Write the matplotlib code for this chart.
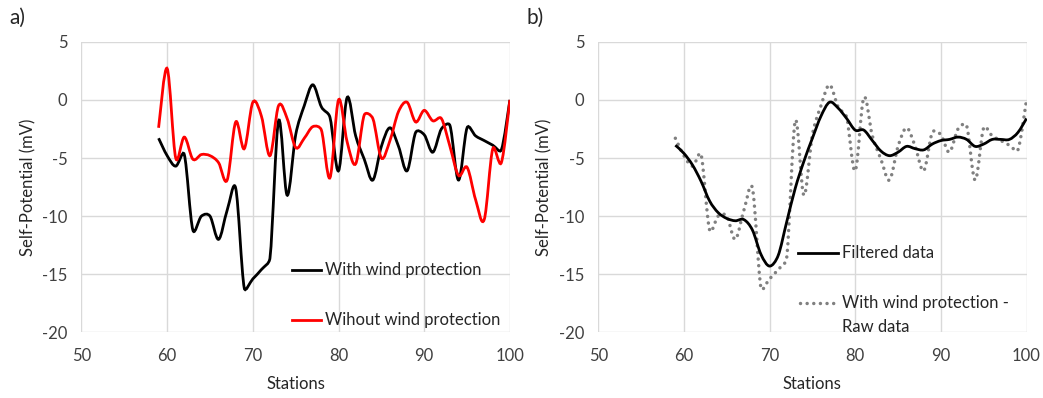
import numpy as np
import matplotlib
matplotlib.use('Agg')
import matplotlib.pyplot as plt
from matplotlib.path import Path
from matplotlib.patches import PathPatch

plt.rcParams['font.family'] = ['Lato', 'DejaVu Sans']
plt.rcParams['axes.unicode_minus'] = False

stations = list(range(59, 101))

# a) with / without wind protection
with_wind = [-3.3, -4.8, -5.7, -4.7, -11.2, -10.0, -10.0, -12.0, -9.5, -7.6,
             -16.2, -15.4, -14.6, -13.6, -1.8, -8.2, -3.0, -0.5, 1.3, -0.6,
             -1.5, -6.1, 0.2, -3.1, -5.1, -6.9, -4.0, -2.4, -4.0, -6.1,
             -2.8, -3.0, -4.5, -2.5, -2.2, -6.9, -2.4, -3.1, -3.5, -3.9,
             -4.3, 0.0]
without_wind = [-2.4, 2.7, -5.0, -3.2, -5.1, -4.7, -4.8, -5.4, -6.9, -1.9,
                -4.2, -0.2, -1.4, -4.8, -0.5, -1.6, -4.1, -3.3, -2.3, -2.6,
                -6.7, 0.0, -3.6, -5.5, -1.3, -1.6, -5.0, -3.5, -1.0, -0.2,
                -1.9, -0.9, -1.8, -1.6, -4.0, -6.5, -5.8, -8.6, -10.3, -4.2,
                -5.4, 0.0]

# b) filtered data
filtered = [-3.9, -4.6, -5.6, -7.0, -8.7, -9.7, -10.2, -10.4, -10.3, -11.2,
            -13.3, -14.3, -13.4, -10.5, -7.6, -5.3, -3.3, -1.4, -0.2, -0.7,
            -1.6, -2.6, -2.6, -3.5, -4.4, -4.8, -4.5, -4.0, -4.2, -4.3,
            -3.8, -3.5, -3.4, -3.2, -3.4, -4.0, -3.8, -3.4, -3.4, -3.4,
            -2.8, -1.6]

xticks = [50, 60, 70, 80, 90, 100]
yticks = [-20, -15, -10, -5, 0, 5]

# rough px per data unit, so the smoothing is done in screen space
SX, SY = 8.57, 11.62
FS = 12


def smooth_path(x, y, kmax=0.45):
    # catmull-rom bezier, handles clamped to a share of the segment
    p = np.column_stack([np.asarray(x) * SX, np.asarray(y) * SY]).astype(float)
    n = len(p)
    verts = [p[0]]
    codes = [Path.MOVETO]
    for i in range(n - 1):
        a, b = p[i], p[i + 1]
        seg = np.hypot(*(b - a))
        h0 = (p[min(i + 1, n - 1)] - p[max(i - 1, 0)]) / 6
        h1 = (p[min(i + 2, n - 1)] - p[i]) / 6
        for h in (h0, h1):
            L = np.hypot(*h)
            if L > kmax * seg:
                h *= kmax * seg / L
        verts += [a + h0, b - h1, b]
        codes += [Path.CURVE4] * 3
    verts = np.array(verts) / [SX, SY]
    return Path(verts, codes)


def style_axes(ax):
    ax.set_xlim(50, 100)
    ax.set_ylim(-20, 5)
    ax.set_xticks(xticks)
    ax.set_yticks(yticks)
    for s in ax.spines.values():
        s.set_visible(False)
    ax.grid(True, color='#d9d9d9', linewidth=1.0)
    ax.set_axisbelow(True)
    ax.tick_params(length=0, labelsize=FS, colors='#404040')
    ax.tick_params(axis='y', pad=10)
    ax.tick_params(axis='x', pad=11)
    ax.set_xlabel('Stations', fontsize=FS, color='#262626')
    ax.set_ylabel('Self-Potential (mV)', fontsize=FS, color='#262626')
    ax.xaxis.set_label_coords(0.5, -0.15)
    ax.yaxis.set_label_coords(-0.106, 0.5)


fig = plt.figure(figsize=(10.43, 3.98), dpi=100)
ax1 = fig.add_axes([0.0781, 0.165, 0.4108, 0.730])
ax2 = fig.add_axes([0.5736, 0.165, 0.4106, 0.730])

style_axes(ax1)
ax1.add_patch(PathPatch(smooth_path(stations, with_wind), fill=False,
                        edgecolor='black', linewidth=2.0))
ax1.add_patch(PathPatch(smooth_path(stations, without_wind), fill=False,
                        edgecolor='#ff0000', linewidth=2.0))

# legend a)
ax1.plot([0.491, 0.559], [0.214, 0.214], color='black', lw=2.0,
         transform=ax1.transAxes, clip_on=False)
ax1.text(0.568, 0.214, 'With wind protection', transform=ax1.transAxes,
         va='center', ha='left', fontsize=FS, color='#262626')
ax1.plot([0.491, 0.559], [0.042, 0.042], color='#ff0000', lw=2.0,
         transform=ax1.transAxes, clip_on=False)
ax1.text(0.568, 0.042, 'Wihout wind protection', transform=ax1.transAxes,
         va='center', ha='left', fontsize=FS, color='#262626')

style_axes(ax2)
ax2.add_patch(PathPatch(smooth_path(stations, with_wind), fill=False,
                        edgecolor='#808080', linewidth=2.5,
                        linestyle=(0, (0.01, 1.9)), capstyle='round'))
ax2.add_patch(PathPatch(smooth_path(stations, filtered), fill=False,
                        edgecolor='black', linewidth=2.0))

# legend b)
ax2.plot([0.466, 0.560], [0.273, 0.273], color='black', lw=2.0,
         transform=ax2.transAxes, clip_on=False)
ax2.text(0.569, 0.273, 'Filtered data', transform=ax2.transAxes,
         va='center', ha='left', fontsize=FS, color='#262626')
ax2.plot([0.47, 0.556], [0.101, 0.101], color='#808080', lw=2.5,
         linestyle=(0, (0.01, 1.9)), dash_capstyle='round',
         transform=ax2.transAxes, clip_on=False)
ax2.text(0.569, 0.101, 'With wind protection -', transform=ax2.transAxes,
         va='center', ha='left', fontsize=FS, color='#262626')
ax2.text(0.569, 0.018, 'Raw data', transform=ax2.transAxes,
         va='center', ha='left', fontsize=FS, color='#262626')

fig.text(0.009, 0.955, 'a)', fontsize=15, color='#262626', va='center')
fig.text(0.505, 0.955, 'b)', fontsize=15, color='#262626', va='center')

fig.savefig('out.png', dpi=100)
